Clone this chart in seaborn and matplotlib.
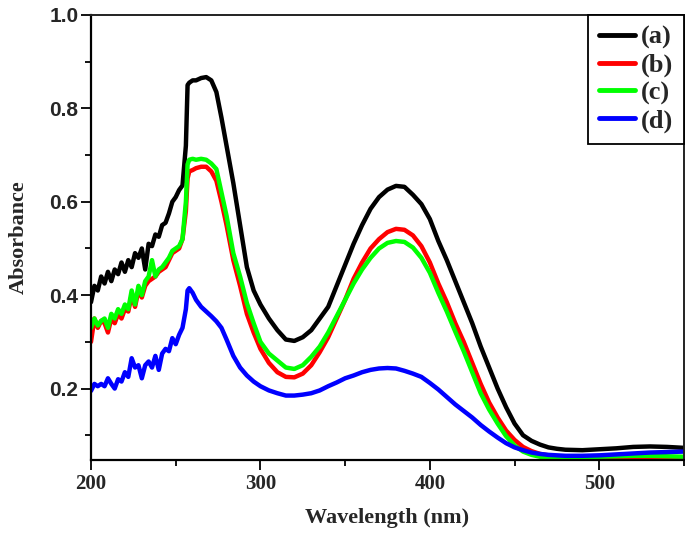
import matplotlib
matplotlib.use("Agg")
import matplotlib.pyplot as plt
import seaborn as sns
import pandas as pd
from matplotlib.ticker import MultipleLocator

# wavelength grid (nm)
wavelength = [200, 202, 204, 206, 208, 210, 212, 214, 216, 218, 220, 222, 224, 226, 228,
              230, 232, 234, 236, 238, 240, 242, 244, 246, 248, 250, 252, 254, 256,
              257, 258, 260, 262, 265, 268, 271, 274, 277, 280,
              284, 288, 292, 296, 300,
              305, 310, 315, 320, 325, 330, 335, 340, 345, 350, 355, 360, 365, 370, 375,
              380, 385, 390, 395, 400, 405, 410, 415, 420, 425, 430, 435, 440, 445, 450,
              455, 460, 465, 470, 475, 480,
              490, 500, 510, 520, 530, 540, 550]

abs_a = [0.385, 0.42, 0.41, 0.44, 0.425, 0.45, 0.43, 0.455, 0.445, 0.47, 0.45, 0.475, 0.46, 0.49, 0.48,
         0.50, 0.455, 0.51, 0.505, 0.53, 0.525, 0.55, 0.555, 0.575, 0.60, 0.61, 0.625, 0.635, 0.72,
         0.85, 0.855, 0.86, 0.86, 0.865, 0.867, 0.86, 0.835, 0.78, 0.72,
         0.64, 0.55, 0.46, 0.41, 0.38,
         0.35, 0.325, 0.305, 0.302, 0.31, 0.325, 0.35, 0.375, 0.42, 0.465, 0.51, 0.55, 0.585, 0.61, 0.626,
         0.634, 0.632, 0.615, 0.595, 0.563, 0.516, 0.475, 0.43, 0.385, 0.34, 0.29, 0.245, 0.20, 0.16, 0.125,
         0.10, 0.088, 0.08, 0.074, 0.071, 0.069,
         0.068, 0.07, 0.072, 0.075, 0.076, 0.075, 0.073]

abs_b = [0.30, 0.35, 0.33, 0.345, 0.34, 0.32, 0.35, 0.34, 0.36, 0.35, 0.37, 0.365, 0.40, 0.375, 0.41,
         0.395, 0.42, 0.43, 0.435, 0.44, 0.45, 0.455, 0.46, 0.475, 0.49, 0.495, 0.50, 0.52, 0.58,
         0.65, 0.665, 0.668, 0.672, 0.675, 0.675, 0.665, 0.645, 0.60, 0.55,
         0.475, 0.42, 0.36, 0.32, 0.285,
         0.255, 0.235, 0.225, 0.224, 0.232, 0.25, 0.278, 0.31, 0.35, 0.39, 0.435, 0.47, 0.50, 0.52, 0.535,
         0.542, 0.54, 0.528, 0.505, 0.47, 0.425, 0.385, 0.34, 0.30, 0.255, 0.21, 0.17, 0.138, 0.11, 0.09,
         0.075, 0.066, 0.06, 0.057, 0.055, 0.054,
         0.053, 0.052, 0.051, 0.05, 0.049, 0.048, 0.047]

abs_c = [0.33, 0.35, 0.335, 0.345, 0.35, 0.33, 0.36, 0.35, 0.37, 0.36, 0.38, 0.37, 0.41, 0.38, 0.42,
         0.40, 0.43, 0.44, 0.475, 0.44, 0.455, 0.46, 0.47, 0.48, 0.495, 0.50, 0.505, 0.52, 0.60,
         0.68, 0.69, 0.692, 0.69, 0.692, 0.69, 0.682, 0.67, 0.62, 0.57,
         0.49, 0.44, 0.383, 0.34, 0.30,
         0.275, 0.26, 0.245, 0.242, 0.25, 0.268, 0.29, 0.32, 0.355, 0.39, 0.425, 0.455, 0.48, 0.50, 0.512,
         0.516, 0.514, 0.502, 0.48, 0.448, 0.405, 0.365, 0.322, 0.28, 0.235, 0.19, 0.155, 0.125, 0.098, 0.078,
         0.065, 0.058, 0.054, 0.052, 0.052, 0.052,
         0.053, 0.054, 0.055, 0.056, 0.056, 0.055, 0.054]

abs_d = [0.195, 0.21, 0.205, 0.21, 0.205, 0.222, 0.21, 0.20, 0.22, 0.215, 0.235, 0.225, 0.265, 0.245, 0.25,
         0.222, 0.25, 0.258, 0.245, 0.27, 0.24, 0.275, 0.285, 0.28, 0.308, 0.295, 0.315, 0.33, 0.37,
         0.41, 0.415, 0.405, 0.39, 0.375, 0.365, 0.355, 0.344, 0.33, 0.305,
         0.27, 0.245, 0.228, 0.215, 0.205,
         0.196, 0.19, 0.185, 0.185, 0.187, 0.19, 0.196, 0.205, 0.213, 0.222, 0.228, 0.235, 0.24, 0.243, 0.244,
         0.243, 0.238, 0.232, 0.225, 0.212, 0.198, 0.182, 0.166, 0.152, 0.138, 0.122, 0.108, 0.095, 0.083, 0.074,
         0.068, 0.063, 0.06, 0.058, 0.057, 0.056,
         0.056, 0.057, 0.059, 0.061, 0.063, 0.064, 0.065]

labels = ["(a)", "(b)", "(c)", "(d)"]
colors = ["#000000", "#ff0000", "#00ff00", "#0000ff"]

frames = []
for lab, vals in zip(labels, [abs_a, abs_b, abs_c, abs_d]):
    frames.append(pd.DataFrame({"wl": wavelength, "A": vals, "sample": lab}))
df = pd.concat(frames, ignore_index=True)

sns.set_style("ticks")
plt.rcParams["font.family"] = ["Liberation Serif", "DejaVu Serif"]

fig = plt.figure(figsize=(6.85, 5.34), dpi=100)
ax = fig.add_axes([91 / 685, 74 / 534, 593 / 685, 445 / 534])

sns.lineplot(data=df, x="wl", y="A", hue="sample", palette=colors,
             estimator=None, sort=False, lw=3.2, ax=ax)

ax.set_xlim(200, 550)
ax.set_ylim(0.047, 1.0)
ax.xaxis.set_major_locator(MultipleLocator(100))
ax.xaxis.set_minor_locator(MultipleLocator(50))
ax.yaxis.set_major_locator(MultipleLocator(0.2))
ax.yaxis.set_minor_locator(MultipleLocator(0.1))
ax.set_yticks([0.2, 0.4, 0.6, 0.8, 1.0])

# full box; ticks only on left and bottom
for sp in ["left", "bottom"]:
    ax.spines[sp].set_linewidth(1.6)
    ax.spines[sp].set_color("black")
for sp in ["top", "right"]:
    ax.spines[sp].set_linewidth(1.4)
    ax.spines[sp].set_color("#222222")
ax.tick_params(which="major", direction="out", length=7, width=1.3, color="black")
ax.tick_params(which="minor", direction="out", length=4, width=1.3, color="black")
ax.tick_params(axis="y", which="both", pad=2, right=False)
ax.tick_params(axis="x", which="both", pad=3, top=False)

for t in ax.get_xticklabels():
    t.set_fontfamily("Liberation Serif")
    t.set_fontweight("bold")
    t.set_fontsize(15)
for t in ax.get_yticklabels():
    t.set_fontfamily("Liberation Sans")
    t.set_fontweight("bold")
    t.set_fontsize(15)

ax.set_xlabel("Wavelength (nm)", fontsize=16, fontweight="bold", labelpad=10)
ax.set_ylabel("Absorbance", fontsize=16, fontweight="bold", labelpad=15)

leg = ax.legend(loc="upper right", bbox_to_anchor=(1.0, 1.0), borderaxespad=0,
                frameon=True, fancybox=False, edgecolor="black", framealpha=1,
                prop={"family": "Liberation Serif", "weight": "bold", "size": 19},
                handlelength=1.35, handletextpad=0.25, labelspacing=0.15,
                borderpad=0.4)
leg.get_frame().set_linewidth(1.3)
for h in leg.get_lines():
    h.set_linewidth(3.5)

fig.savefig("out.png", dpi=100)
